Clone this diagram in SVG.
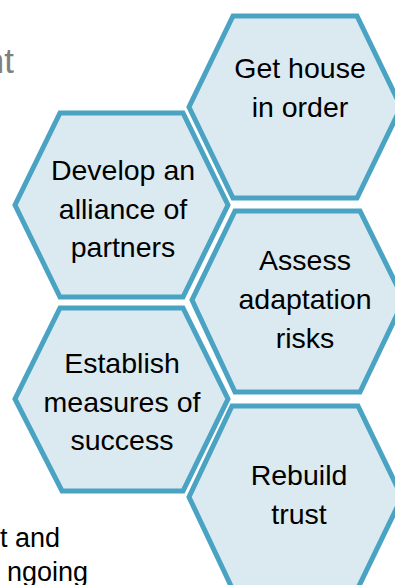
<svg xmlns="http://www.w3.org/2000/svg" width="395" height="585" viewBox="0 0 395 585">
  <style>
    .hex { fill: #dbeaf1; stroke: #4aa3c3; stroke-width: 5; stroke-linejoin: miter; }
    .lbl { font-family: "Liberation Sans", Arial, sans-serif; font-size: 28.5px; fill: #000; text-anchor: middle; }
    .bg { font-family: "Liberation Sans", Arial, sans-serif; }
  </style>
  <rect width="395" height="585" fill="#ffffff"/>

  <!-- background slide text, partly hidden -->
  <text class="bg" x="14" y="73" font-size="35" fill="#7f7f7f" text-anchor="end">nt</text>
  <text class="bg" x="60" y="547" font-size="27" fill="#000" text-anchor="end">t and</text>
  <text class="bg" x="88" y="581" font-size="27" fill="#000" text-anchor="end">ngoing</text>

  <g id="node-house">
    <polygon class="hex" points="233,16 357,16 401,107 357,198 233,198 189,107"/>
    <text class="lbl" x="300" y="78">Get house</text>
    <text class="lbl" x="300" y="117">in order</text>
  </g>

  <g id="node-alliance">
    <polygon class="hex" points="60,113 183,113 228,205 183,297 60,297 15,205"/>
    <text class="lbl" x="123" y="180">Develop an</text>
    <text class="lbl" x="123" y="219">alliance of</text>
    <text class="lbl" x="123" y="257">partners</text>
  </g>

  <g id="node-risks">
    <polygon class="hex" points="235,211 360,211 404,300 360,392 235,392 192,300"/>
    <text class="lbl" x="305" y="270">Assess</text>
    <text class="lbl" x="305" y="309">adaptation</text>
    <text class="lbl" x="305" y="348">risks</text>
  </g>

  <g id="node-measures">
    <polygon class="hex" points="60,308 183,308 228,399 183,491 62,491 15,399"/>
    <text class="lbl" x="122" y="373">Establish</text>
    <text class="lbl" x="122" y="412">measures of</text>
    <text class="lbl" x="122" y="450">success</text>
  </g>

  <g id="node-trust">
    <polygon class="hex" points="232,406 358,406 402,497 358,588 232,588 189,497"/>
    <text class="lbl" x="299" y="485">Rebuild</text>
    <text class="lbl" x="299" y="524">trust</text>
  </g>

  <g id="connectors"></g>
</svg>
